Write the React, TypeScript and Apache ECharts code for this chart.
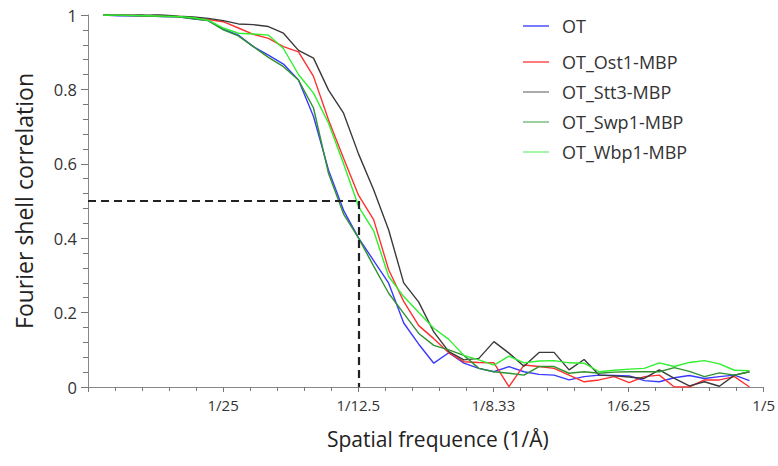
import React, { useEffect, useRef } from "react";
import * as echarts from "echarts";

// Spatial frequency (1/Å) of each FSC shell
const freq = [
  0.00445, 0.0089, 0.01335, 0.0178, 0.02225, 0.0267, 0.03115, 0.0356, 0.04005, 0.0445,
  0.04895, 0.0534, 0.05785, 0.0623, 0.06675, 0.0712, 0.07565, 0.0801, 0.08455, 0.089,
  0.09345, 0.0979, 0.10235, 0.1068, 0.11125, 0.1157, 0.12015, 0.1246, 0.12905, 0.1335,
  0.13795, 0.1424, 0.14685, 0.1513, 0.15575, 0.1602, 0.16465, 0.1691, 0.17355, 0.178,
  0.18245, 0.1869, 0.19135, 0.1958,
];

const fscOT = [
  1.0, 0.998, 0.998, 0.997, 0.996, 0.995, 0.99, 0.985, 0.962, 0.946,
  0.915, 0.892, 0.868, 0.825, 0.727, 0.583, 0.475, 0.4, 0.34, 0.279,
  0.172, 0.115, 0.064, 0.092, 0.064, 0.05, 0.041, 0.055, 0.041, 0.034,
  0.032, 0.019, 0.028, 0.032, 0.031, 0.03, 0.017, 0.014, 0.025, 0.031,
  0.023, 0.028, 0.032, 0.017,
];
const fscOst1 = [
  1.0, 1.0, 0.999, 0.998, 0.997, 0.996, 0.993, 0.988, 0.982, 0.965,
  0.948, 0.937, 0.915, 0.901, 0.835, 0.718, 0.615, 0.515, 0.45, 0.315,
  0.23, 0.165, 0.13, 0.092, 0.068, 0.066, 0.065, 0.001, 0.059, 0.055,
  0.05, 0.032, 0.014, 0.019, 0.028, 0.012, 0.028, 0.032, 0.0, 0.0,
  0.019, 0.019, 0.028, 0.0,
];
const fscStt3 = [
  1.0, 1.0, 1.0, 1.003, 1.0, 0.997, 0.995, 0.991, 0.985, 0.976,
  0.974, 0.969, 0.951, 0.905, 0.884, 0.798, 0.736, 0.626, 0.53, 0.422,
  0.28, 0.228, 0.148, 0.095, 0.073, 0.077, 0.122, 0.091, 0.056, 0.093,
  0.093, 0.046, 0.074, 0.032, 0.03, 0.027, 0.023, 0.046, 0.023, 0.003,
  0.014, 0.002, 0.032, 0.041,
];
const fscSwp1 = [
  1.0, 0.999, 0.998, 0.997, 0.996, 0.995, 0.99, 0.985, 0.96, 0.944,
  0.915, 0.886, 0.861, 0.825, 0.75, 0.574, 0.465, 0.4, 0.325, 0.252,
  0.198, 0.144, 0.112, 0.1, 0.085, 0.05, 0.041, 0.037, 0.032, 0.055,
  0.055, 0.037, 0.041, 0.037, 0.04, 0.041, 0.041, 0.041, 0.052, 0.042,
  0.028, 0.038, 0.032, 0.041,
];
const fscWbp1 = [
  1.0, 1.0, 0.999, 0.998, 0.997, 0.996, 0.993, 0.986, 0.965, 0.951,
  0.949, 0.946, 0.91, 0.84, 0.79, 0.709, 0.6, 0.485, 0.42, 0.297,
  0.243, 0.2, 0.158, 0.128, 0.085, 0.073, 0.059, 0.083, 0.065, 0.07,
  0.071, 0.065, 0.064, 0.041, 0.045, 0.048, 0.05, 0.065, 0.055, 0.066,
  0.071, 0.062, 0.045, 0.044,
];

const seriesNames = ["OT", "OT_Ost1-MBP", "OT_Stt3-MBP", "OT_Swp1-MBP", "OT_Wbp1-MBP"];
const seriesValues = [fscOT, fscOst1, fscStt3, fscSwp1, fscWbp1];
const seriesColors = ["#3a3aff", "#ff3030", "#3a3a3a", "#2f922f", "#2fef2f"];
const legendColors = ["#7a7aff", "#ff7a7a", "#aaaaaa", "#9fcf9f", "#a6f5a6"];

const xTickLabels = ["", "1/25", "1/12.5", "1/8.33", "1/6.25", "1/5"];
const xMax = 0.2;
const xInterval = 0.04;
const fscThreshold = 0.5;
const resolutionFreq = 0.08;

const FONT = "Open Sans";

export default function App() {
  const ref = useRef<HTMLDivElement>(null);

  useEffect(() => {
    if (!ref.current) return;
    const chart = echarts.init(ref.current, undefined, { renderer: "svg" });

    const series: any[] = seriesNames.map((name, k) => ({
      name,
      type: "line",
      data: freq.map((f, i) => [f, seriesValues[k][i]]),
      showSymbol: false,
      symbol: "none",
      lineStyle: { color: seriesColors[k], width: 1.4 },
      itemStyle: { color: seriesColors[k] },
      z: 2,
    }));

    series[0].markLine = {
      silent: true,
      symbol: "none",
      label: { show: false },
      lineStyle: { color: "#222", type: [8, 5], width: 2.2 },
      z: 5,
      data: [
        [{ coord: [0, fscThreshold] }, { coord: [resolutionFreq, fscThreshold] }],
        [{ coord: [resolutionFreq, fscThreshold] }, { coord: [resolutionFreq, 0] }],
      ],
    };

    const legendText = {
      fontFamily: FONT,
      fontSize: 18,
      color: "#333",
      lineHeight: 18,
      padding: [0, 0, 0, 8],
    };

    chart.setOption({
      animation: false,
      backgroundColor: "#fff",
      grid: { left: 88, right: 13, top: 15, bottom: 79 },
      legend: [
        {
          orient: "vertical",
          left: 518,
          top: 12,
          icon: "rect",
          itemWidth: 26,
          itemHeight: 2,
          textStyle: legendText,
          data: [{ name: seriesNames[0], itemStyle: { color: legendColors[0] } }],
        },
        {
          orient: "vertical",
          left: 518,
          top: 48,
          itemGap: 12,
          icon: "rect",
          itemWidth: 26,
          itemHeight: 2,
          textStyle: legendText,
          data: seriesNames.slice(1).map((n, k) => ({
            name: n,
            itemStyle: { color: legendColors[k + 1] },
          })),
        },
      ],
      xAxis: {
        type: "value",
        min: 0,
        max: xMax,
        interval: xInterval,
        name: "Spatial frequence (1/Å)",
        nameLocation: "middle",
        nameGap: 41,
        nameTextStyle: { fontFamily: FONT, fontSize: 21, color: "#222", padding: [0, 0, 0, 24] },
        axisLine: { lineStyle: { color: "#888", width: 1 } },
        axisTick: { show: true, length: 5, lineStyle: { color: "#777" } },
        minorTick: { show: true, splitNumber: 5, length: 4, lineStyle: { color: "#777" } },
        splitLine: { show: false },
        axisLabel: {
          margin: 10,
          fontFamily: FONT,
          fontSize: 15,
          color: "#333",
          formatter: (v: number) => xTickLabels[Math.round(v / xInterval)] ?? "",
        },
      },
      yAxis: {
        type: "value",
        min: 0,
        max: 1,
        interval: 0.2,
        name: "Fourier shell correlation",
        nameLocation: "middle",
        nameGap: 53,
        nameTextStyle: { fontFamily: FONT, fontSize: 23, color: "#222" },
        axisLine: { show: true, lineStyle: { color: "#888", width: 1 } },
        axisTick: { show: true, length: 7, lineStyle: { color: "#777" } },
        minorTick: { show: true, splitNumber: 5, length: 5, lineStyle: { color: "#777" } },
        splitLine: { show: false },
        axisLabel: { margin: 11, fontFamily: FONT, fontSize: 16.5, color: "#333" },
      },
      series,
    });

    return () => chart.dispose();
  }, []);

  return (
    <div
      ref={ref}
      style={{ position: "fixed", left: 0, top: 0, width: 778, height: 466, background: "#fff" }}
    />
  );
}
